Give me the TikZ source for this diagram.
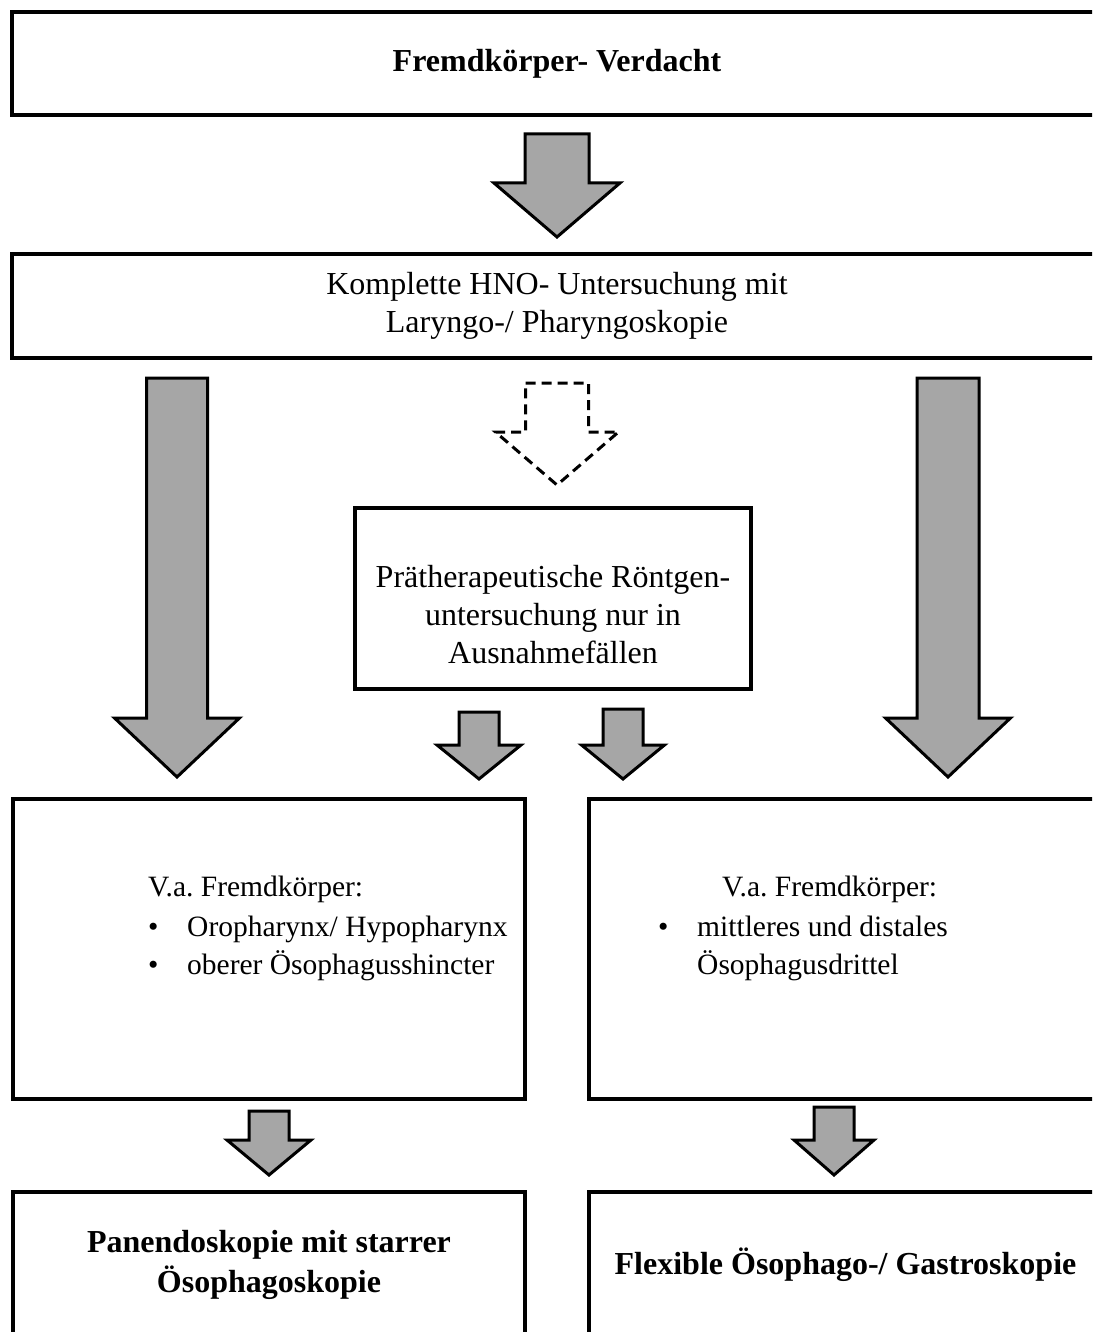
\documentclass[tikz,border=0pt]{standalone}
\usepackage{fontspec}
\setmainfont{Liberation Serif}
\usetikzlibrary{calc}

\tikzset{
  box/.style={draw, line width=4pt, inner sep=0pt, anchor=north west, align=center,
    font=\fontsize{32}{38}\selectfont},
  txt/.style={inner sep=0pt, font=\fontsize{32}{38}\selectfont},
  itemtxt/.style={inner sep=0pt, anchor=base west, font=\fontsize{29.5}{38}\selectfont},
  fatarrow/.style={draw, line width=3pt, line join=miter, fill=gray!70},
  dasharrow/.style={draw, line width=3pt, line join=miter, dash pattern=on 10pt off 6pt}
}
% #2 start, #3 tip, #4 half shaft, #5 half head, #6 head length
\newcommand\blockarrow[6][fatarrow]{%
  \path[#1] let \p1=#2, \p2=#3 in
    ({\x1-#4pt},\y1) -- ({\x1+#4pt},\y1) -- ({\x1+#4pt},{\y2+#6pt})
    -- ({\x1+#5pt},{\y2+#6pt}) -- (\x1,\y2) -- ({\x1-#5pt},{\y2+#6pt})
    -- ({\x1-#4pt},{\y2+#6pt}) -- cycle;}

\begin{document}
\begin{tikzpicture}[x=1pt, y=-1pt]
\useasboundingbox (0,0) rectangle (1092,1332);
\clip (0,0) rectangle (1092,1332);

% boxes
\node[box, minimum width=1090pt, minimum height=103pt] (top) at (10,10) {\textbf{Fremdkörper- Verdacht}};
\node[box, minimum width=1090pt, minimum height=104pt] (hno) at (10,252) {Komplette HNO- Untersuchung mit\\Laryngo-/ Pharyngoskopie};
\node[box, minimum width=396pt, minimum height=181pt] (roent) at (353,506) {};
\node[txt, align=center] (roenttxt) at (553,615) {Prätherapeutische Röntgen-\\untersuchung nur in\\Ausnahmefällen};
\node[box, minimum width=512pt, minimum height=300pt] (left) at (11,797) {};
\node[box, minimum width=513pt, minimum height=300pt] (right) at (587,797) {};
\node[box, minimum width=512pt, minimum height=146pt, font=\fontsize{32}{40}\selectfont\bfseries] (pan) at (11,1190) {Panendoskopie mit starrer\\Ösophagoskopie};
\node[box, minimum width=513pt, minimum height=146pt, font=\fontsize{32}{40}\selectfont\bfseries] (flex) at (587,1190) {Flexible Ösophago-/ Gastroskopie};

% texts in the two middle boxes
\node[itemtxt] (lva) at (148,896) {V.a.\ Fremdkörper:};
\node[itemtxt] (lb1) at (148,936) {•};
\node[itemtxt] (li1) at (187,936) {Oropharynx/ Hypopharynx};
\node[itemtxt] (lb2) at (148,974) {•};
\node[itemtxt] (li2) at (187,974) {oberer Ösophagusshincter};
\node[itemtxt] (rva) at (722,896) {V.a.\ Fremdkörper:};
\node[itemtxt] (rb1) at (658,936) {•};
\node[itemtxt] (ri1) at (697,936) {mittleres und distales};
\node[itemtxt] (ri2) at (697,974) {Ösophagusdrittel};

% arrow ends
\coordinate (ls) at (177,378);
\coordinate (lt) at (177,777);
\coordinate (rs) at (948,378);
\coordinate (rt) at (948,777);
\coordinate (as) at (479,712);
\coordinate (at') at (479,779);
\coordinate (bs) at (623,709);
\coordinate (bt) at (623,779);
\coordinate (fs) at (834,1107);
\coordinate (ft) at (834,1175);

% arrows
\blockarrow{([yshift=-17pt]top.south)}{([yshift=15pt]hno.north)}{32}{63}{54}
\blockarrow{(ls)}{(lt)}{30.5}{62.5}{59}
\blockarrow{(rs)}{(rt)}{31}{62.5}{59}
\blockarrow[dasharrow]{([yshift=-23pt]hno.south)}{(hno.south |- 0,485)}{31.5}{61.5}{53}
\blockarrow{(as)}{(at')}{20}{42}{34}
\blockarrow{(bs)}{(bt)}{20}{41.5}{34}
\blockarrow{([yshift=-10pt]left.south)}{([yshift=15pt]pan.north)}{20}{42}{35}
\blockarrow{(fs)}{(ft)}{20}{40}{35}
\end{tikzpicture}
\end{document}
